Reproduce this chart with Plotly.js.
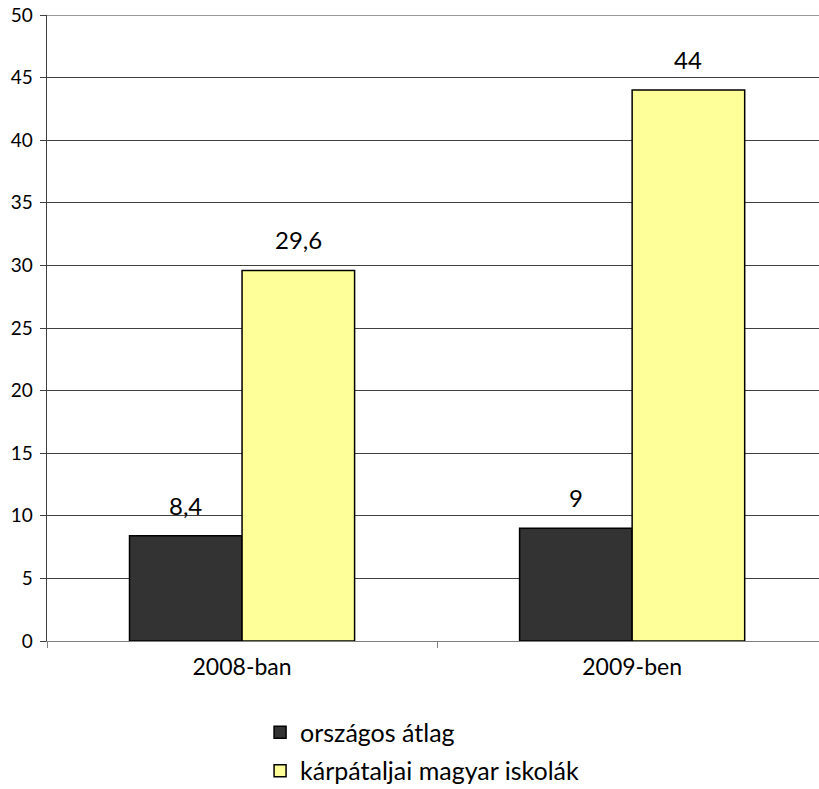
<!DOCTYPE html>
<html><head><meta charset="utf-8">
<script src="https://cdn.plot.ly/plotly-3.0.1.min.js"></script>
<style>body{margin:0;background:#fff}#c{width:819px;height:789px}</style>
</head><body><div id="c"></div>
<script>
const categories = ["2008-ban", "2009-ben"];
const seriesNames = ["országos átlag", "kárpátaljai magyar iskolák"];
const orszagos = [8.4, 9];
const karpataljai = [29.6, 44];
const yTicks = [0, 5, 10, 15, 20, 25, 30, 35, 40, 45, 50];

const FONT = "Lato, 'Open Sans', sans-serif";
const BARGAP = 0.423;
const series = [
  {name: seriesNames[0], y: orszagos, color: "#333333"},
  {name: seriesNames[1], y: karpataljai, color: "#FFFF99"}
];
const traces = series.map((s, k) => ({
  type: "bar", x: categories, y: s.y, name: s.name,
  legendgroup: "g" + k,
  marker: {color: s.color, line: {color: "#000", width: 1.5}},
  hoverinfo: "none"
}));
// value labels placed above each bar, using the bars' own group offsets
const nS = series.length, bw = (1 - BARGAP) / nS;
const annotations = [];
series.forEach((s, k) => {
  s.y.forEach((v, i) => {
    annotations.push({
      xref: "x", yref: "y", x: i - (1 - BARGAP) / 2 + bw * (k + 0.5), y: v,
      text: String(v).replace(".", ","), showarrow: false,
      yanchor: "bottom", yshift: 14,
      font: {family: FONT, size: 24, color: "#000"}
    });
  });
});
const layout = {
  width: 819, height: 789,
  margin: {l: 47, r: 0, t: 15, b: 148, autoexpand: false},
  paper_bgcolor: "#fff", plot_bgcolor: "#fff",
  barmode: "group", bargap: BARGAP, bargroupgap: 0,
  showlegend: true,
  legend: {orientation: "v", x: 0.276, xanchor: "left", y: -0.1093, yanchor: "top",
    traceorder: "grouped", tracegroupgap: 3,
    font: {family: FONT, size: 25, color: "#000"}, itemwidth: 30},
  xaxis: {
    type: "category", range: [-0.5, 1.479],
    showline: true, linecolor: "#7f7f7f", linewidth: 1,
    ticks: "outside", tickson: "boundaries", ticklen: 6, tickcolor: "#7f7f7f",
    ticklabelstandoff: 5,
    tickfont: {family: FONT, size: 23, color: "#000"},
    showgrid: false, zeroline: false, fixedrange: true, automargin: false
  },
  yaxis: {
    range: [0, 50], tickvals: yTicks, ticktext: yTicks.map(String),
    showline: true, linecolor: "#404040", linewidth: 1.5,
    ticks: "outside", ticklen: 6, tickcolor: "#404040",
    ticklabelstandoff: 3,
    tickfont: {family: FONT, size: 19, color: "#000"},
    showgrid: true, gridcolor: "#404040", gridwidth: 1,
    zeroline: false, fixedrange: true, automargin: false
  },
  annotations: annotations,
  shapes: [{type: "line", xref: "paper", yref: "y", x0: 0, x1: 1, y0: 50, y1: 50,
    line: {color: "#999", width: 2}}]
};
Plotly.newPlot("c", traces, layout, {displayModeBar: false, staticPlot: true});
</script></body></html>
